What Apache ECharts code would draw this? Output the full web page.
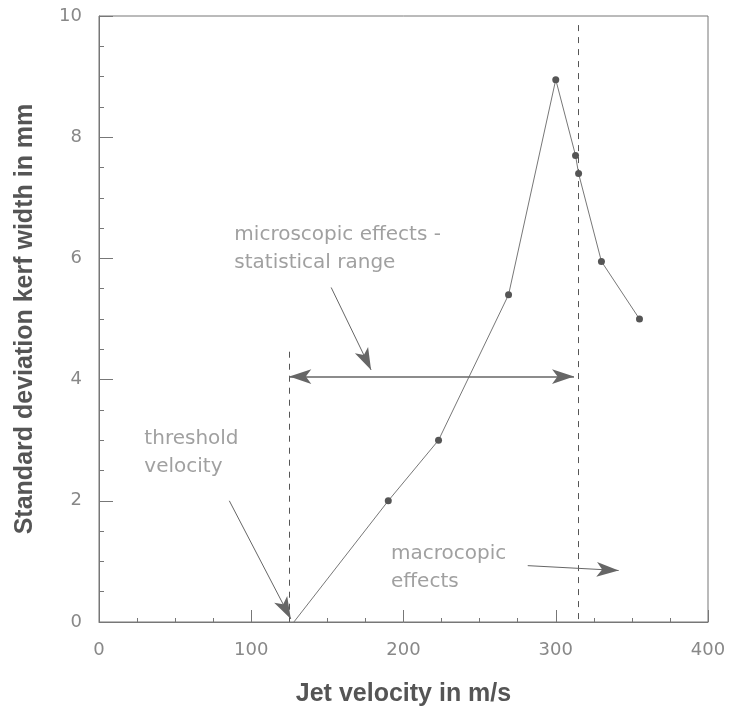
<!DOCTYPE html>
<html><head><meta charset="utf-8">
<script src="https://cdn.jsdelivr.net/npm/echarts@6/dist/echarts.min.js"></script>
<style>html,body{margin:0;padding:0;background:#fff}#c{width:730px;height:714px}</style>
</head><body><div id="c"></div>
<script>
// Data
const velocity = [128, 190, 223, 269, 300, 313, 315, 330, 355];
const kerfStd  = [0, 2.0, 3.0, 5.4, 8.95, 7.7, 7.4, 5.95, 5.0];
const xTicks = [0, 100, 200, 300, 400];
const yTicks = [0, 2, 4, 6, 8, 10];

// Annotations (data coordinates)
const dashedLines = [[[125, 4.46], [125, 0]], [[314.5, 9.85], [314.5, 0]]];
const rangeArrow = [[125, 4.05], [312, 4.05]];
const pointerArrows = [
  [[152.5, 5.52], [178.7, 4.16]],
  [[85.6, 2.0], [126, 0.05]],
  [[281.6, 0.93], [341.3, 0.85]]
];
const annotationTexts = [
  [88.9, 6.39, 'microscopic effects -'],
  [88.9, 5.92, 'statistical range'],
  [29.8, 3.03, 'threshold'],
  [29.8, 2.56, 'velocity'],
  [191.8, 1.13, 'macrocopic'],
  [191.8, 0.66, 'effects']
];

const gray = '#777';
const chart = echarts.init(document.getElementById('c'), null, {renderer: 'canvas'});
const points = velocity.map((v, i) => ({value: [v, kerfStd[i]], symbolSize: i === 0 ? 0 : 7}));

chart.setOption({
  animation: false,
  backgroundColor: '#fff',
  grid: {left: 99, right: 22, top: 16, bottom: 92, show: true, borderColor: gray, borderWidth: 1, backgroundColor: 'transparent'},
  xAxis: {
    type: 'value', min: xTicks[0], max: xTicks[xTicks.length - 1], interval: 100,
    name: 'Jet velocity in m/s', nameLocation: 'middle', nameGap: 60,
    nameTextStyle: {fontFamily: 'Liberation Sans', fontWeight: 'bold', fontSize: 25, color: '#555'},
    axisLine: {lineStyle: {color: gray, width: 1}},
    axisTick: {inside: true, length: 12, lineStyle: {color: gray}},
    minorTick: {show: true, splitNumber: 4, length: 4, lineStyle: {color: gray}},
    splitLine: {show: false},
    axisLabel: {margin: 19, fontFamily: 'DejaVu Sans', fontSize: 18, color: '#888'}
  },
  yAxis: {
    type: 'value', min: yTicks[0], max: yTicks[yTicks.length - 1], interval: 2,
    name: 'Standard deviation kerf width in mm', nameLocation: 'middle', nameGap: 61,
    nameTextStyle: {fontFamily: 'Liberation Sans', fontWeight: 'bold', fontSize: 25, color: '#555'},
    axisLine: {lineStyle: {color: gray, width: 1}},
    axisTick: {inside: true, length: 14, lineStyle: {color: gray}},
    minorTick: {show: true, splitNumber: 4, length: 5, lineStyle: {color: gray}},
    splitLine: {show: false},
    axisLabel: {margin: 17, fontFamily: 'DejaVu Sans', fontSize: 18, color: '#888'}
  },
  series: [
    {
      type: 'line', data: points, symbol: 'circle',
      lineStyle: {color: gray, width: 1}, itemStyle: {color: '#555'}, z: 3
    },
    {
      type: 'line', data: [], silent: true,
      markLine: {
        silent: true, symbol: ['none', 'none'], label: {show: false},
        lineStyle: {color: '#555', type: [6, 6], width: 1},
        data: dashedLines.map(l => [{coord: l[0]}, {coord: l[1]}])
      }
    },
    {
      type: 'line', data: [], silent: true,
      markLine: {
        silent: true, symbol: ['arrow', 'arrow'], symbolSize: [11, 22], label: {show: false},
        lineStyle: {color: '#666', type: 'solid', width: 1.5},
        itemStyle: {color: '#555'},
        data: [[{coord: rangeArrow[0]}, {coord: rangeArrow[1]}]]
      }
    },
    {
      type: 'line', data: [], silent: true,
      markLine: {
        silent: true, symbol: ['none', 'arrow'], symbolSize: [11, 22], label: {show: false},
        lineStyle: {color: '#666', type: 'solid', width: 1},
        data: pointerArrows.map(l => [{coord: l[0]}, {coord: l[1]}])
      }
    },
    {
      type: 'scatter', symbolSize: 0, silent: true,
      data: annotationTexts,
      label: {
        show: true, position: 'right', distance: 0,
        formatter: p => p.data[2],
        fontFamily: 'DejaVu Sans', fontSize: 20, color: '#888'
      }
    }
  ]
});
</script></body></html>
